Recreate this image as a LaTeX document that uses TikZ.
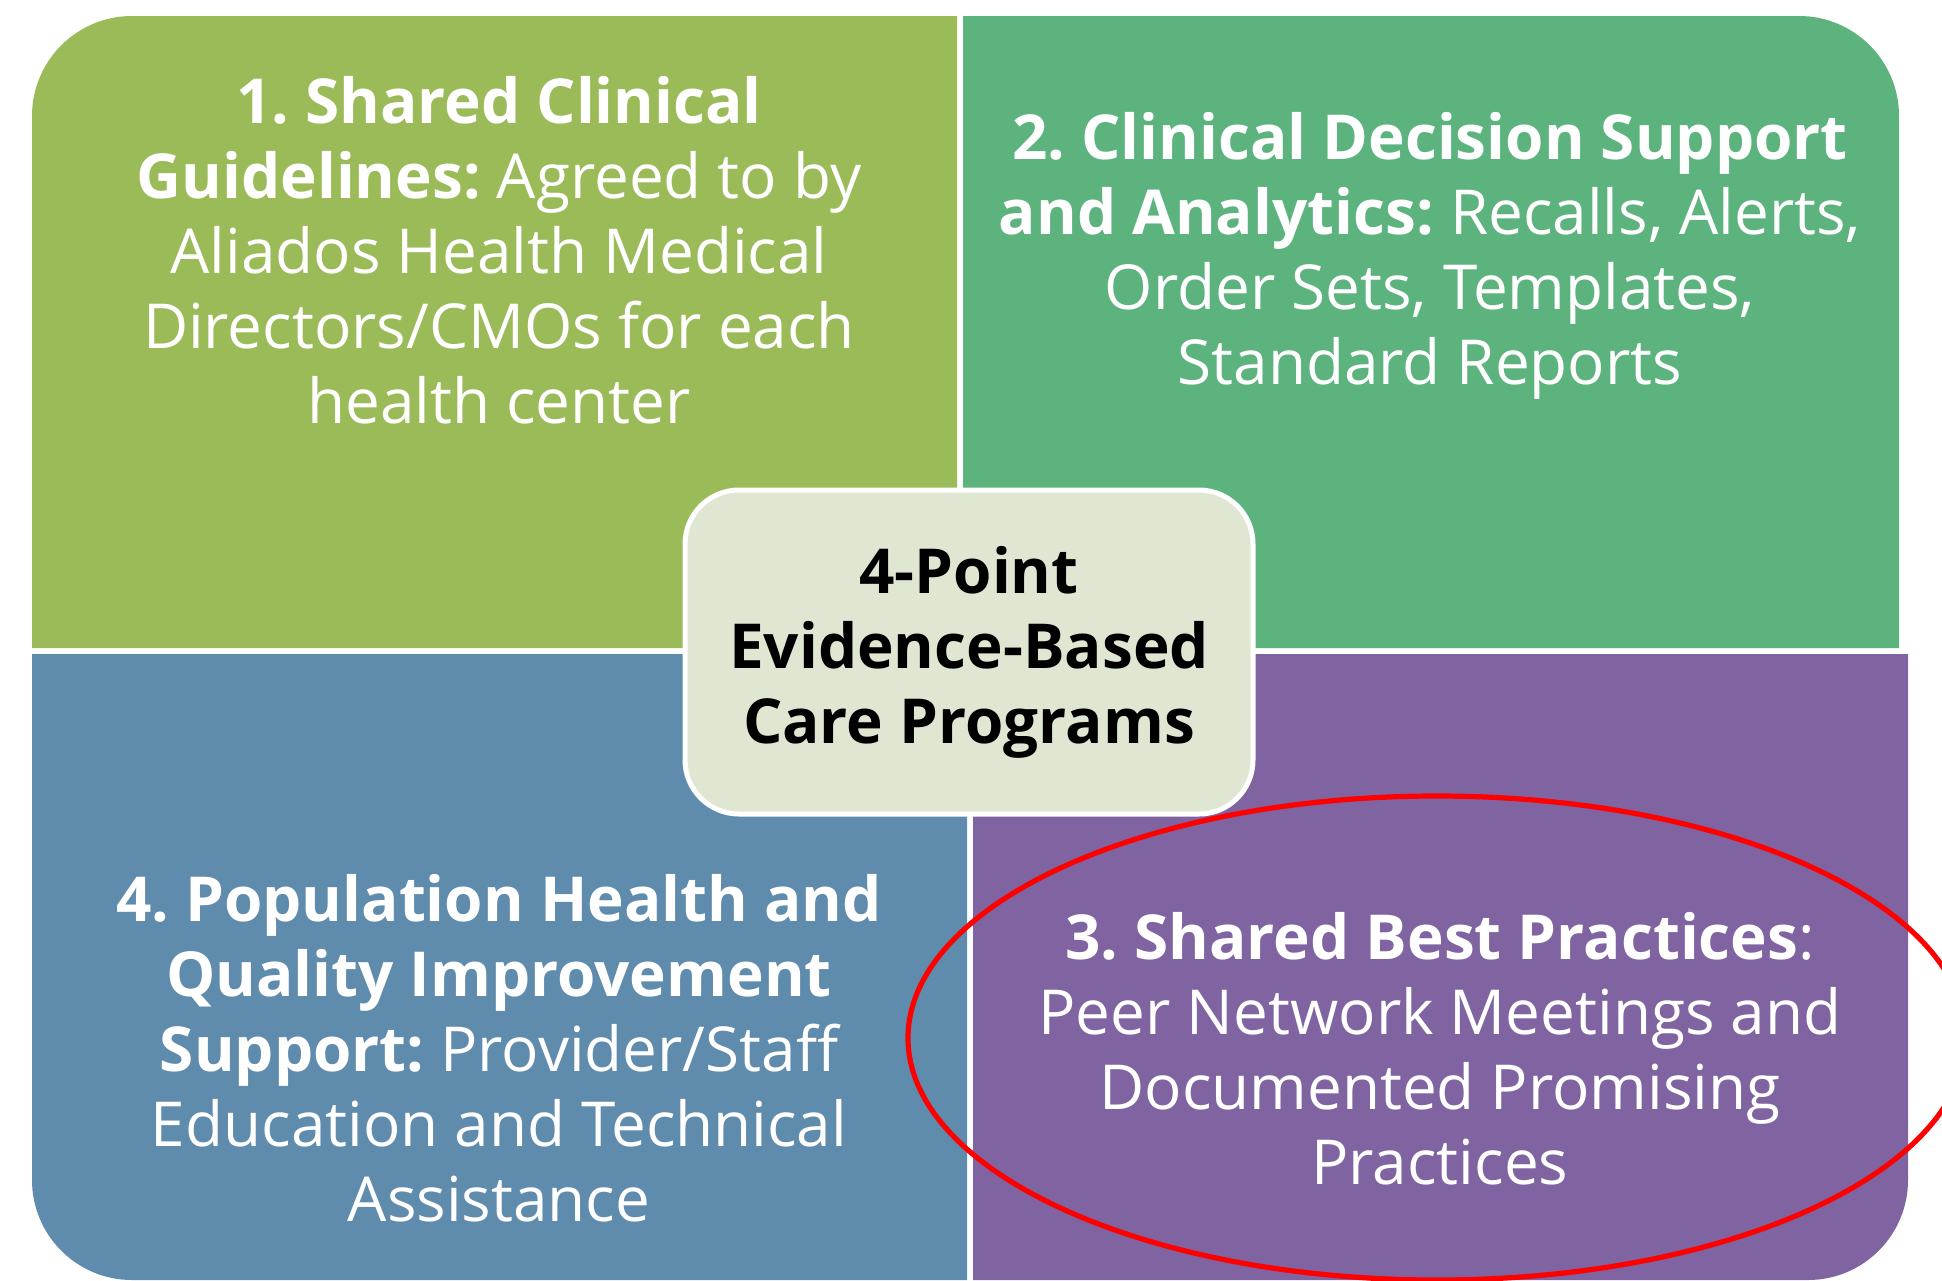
\documentclass[tikz,border=0pt]{standalone}
\usepackage{fontspec}
\setmainfont{Open Sans}
\usepackage{xcolor}
\usetikzlibrary{positioning,calc}
\frenchspacing

\definecolor{quadA}{HTML}{9BBB59}
\definecolor{quadB}{HTML}{5DB37E}
\definecolor{quadC}{HTML}{8064A2}
\definecolor{quadD}{HTML}{5F8BAD}
\definecolor{hubfill}{HTML}{DFE7D3}
\definecolor{ringred}{HTML}{FF0000}

\tikzset{
  quadtext/.style={text=white, align=center, font=\fontsize{31}{37.5}\selectfont},
  hub/.style={draw=white, line width=2.5pt, fill=hubfill, rounded corners=27pt,
    minimum width=284pt, minimum height=162pt, align=center,
    font=\fontsize{31}{37.5}\selectfont\bfseries},
  ring/.style={draw=ringred, line width=2.6pt}
}

\begin{document}
\begin{tikzpicture}[x=0.5pt, y=-0.5pt]
    \useasboundingbox (0,0) rectangle (1942,1280);
    \clip (0,0) rectangle (1942,1280);

    % four quadrants, outer corner rounded
    \fill[quadA] (957,648) -- (32,648) [rounded corners=50pt] -- (32,16) [sharp corners] -- (957,16) -- cycle;
    \fill[quadB] (963,648) -- (963,16) [rounded corners=50pt] -- (1899,16) [sharp corners] -- (1899,648) -- cycle;
    \fill[quadD] (967,654) -- (32,654) [rounded corners=50pt] -- (32,1280) [sharp corners] -- (967,1280) -- cycle;
    \fill[quadC] (973,654) -- (1908,654) [rounded corners=50pt] -- (1908,1280) [sharp corners] -- (973,1280) -- cycle;

    \node[quadtext] (guide) at (499,250) {\textbf{1. Shared Clinical}\\\textbf{Guidelines:} Agreed to by\\Aliados Health Medical\\Directors/CMOs for each\\health center};
    \node[quadtext] (cds) at (1430,256) {\textbf{2. Clinical Decision Support}\\\textbf{and Analytics:} Recalls, Alerts,\\Order Sets, Templates,\\Standard Reports};
    \node[quadtext] (pophealth) at (499,1048) {\textbf{4. Population Health and}\\\textbf{Quality Improvement}\\\textbf{Support:} Provider/Staff\\Education and Technical\\Assistance};
    \node[quadtext] (bestprac) at (1440,1049) {\textbf{3. Shared Best Practices}:\\Peer Network Meetings and\\Documented Promising\\Practices};

    \node[hub] (hub) at (969,652) {4-Point\\Evidence-Based\\Care Programs};

    % highlight
    \draw[ring] (bestprac.center) ++(-3,-11) ellipse [x radius=264.5pt, y radius=121pt];
\end{tikzpicture}
\end{document}
